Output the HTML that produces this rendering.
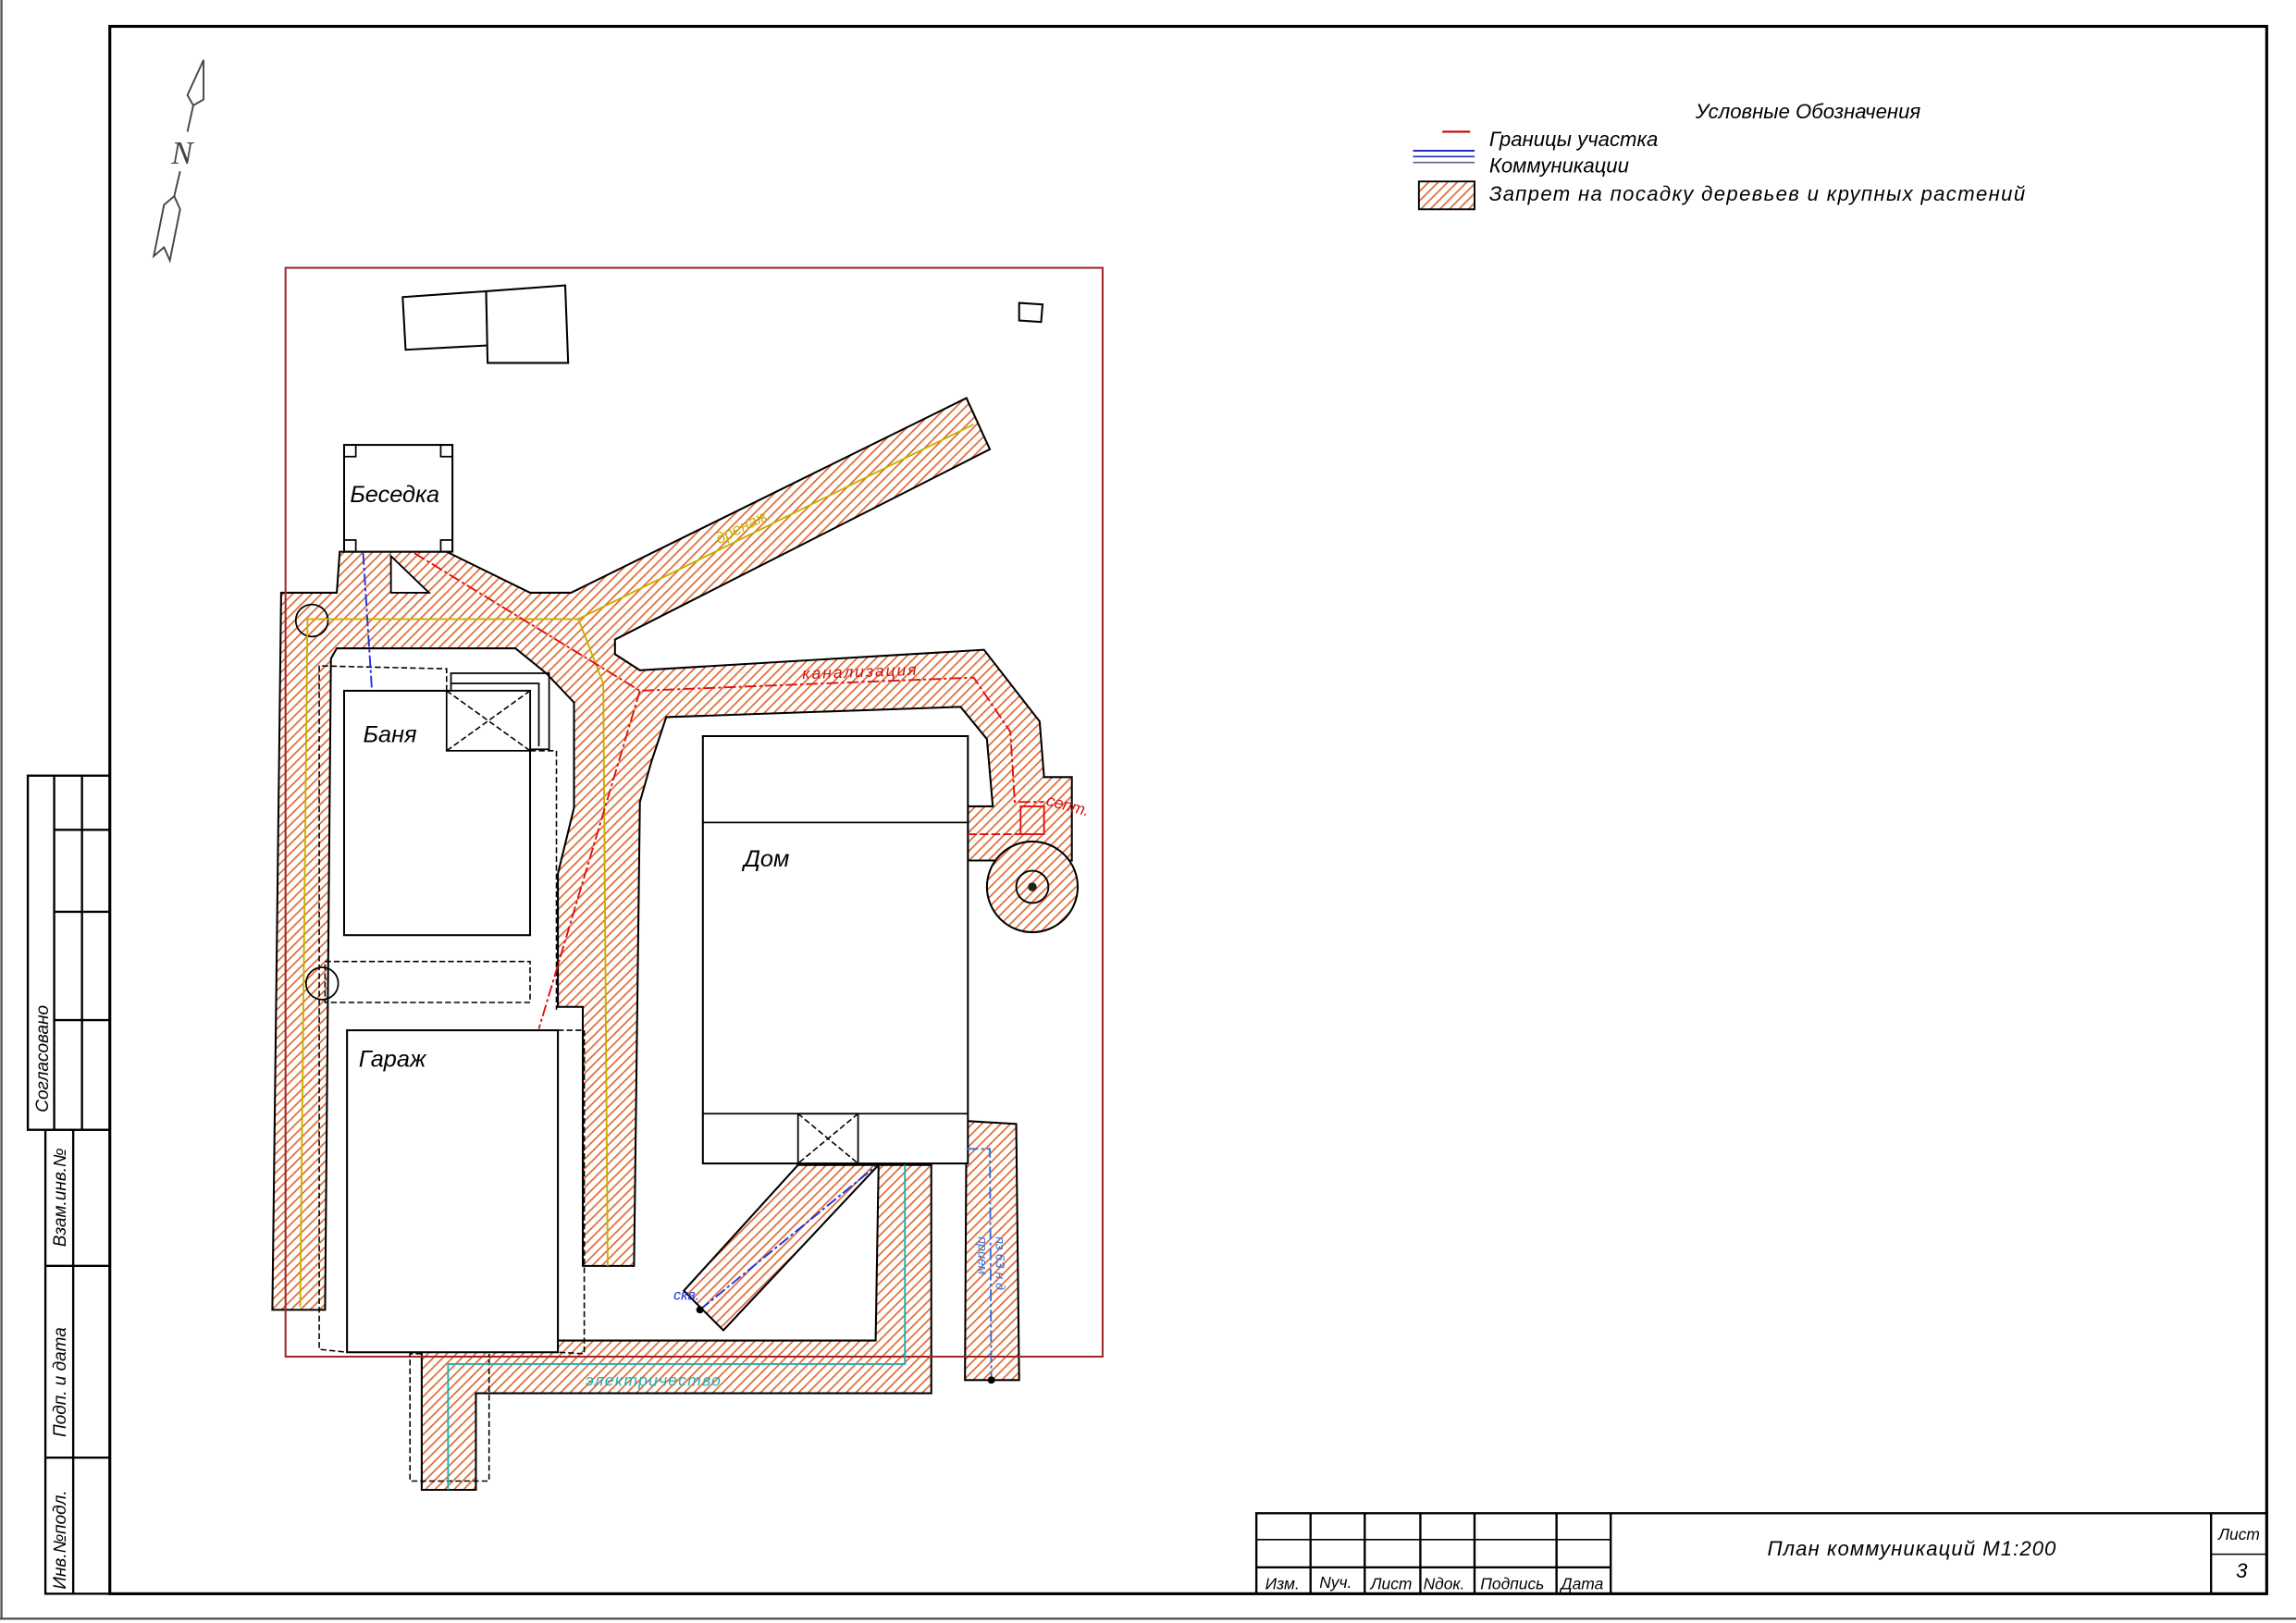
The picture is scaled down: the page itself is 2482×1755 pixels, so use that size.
<!DOCTYPE html>
<html><head><meta charset="utf-8"><style>
html,body{margin:0;padding:0;background:#fff;}
svg{display:block;}
text{font-family:"Liberation Sans","DejaVu Sans",sans-serif;font-style:italic;}
</style></head><body>
<svg width="2482" height="1755" viewBox="0 0 1568 1109" preserveAspectRatio="none" xmlns="http://www.w3.org/2000/svg">
<defs>
<pattern id="h" patternUnits="userSpaceOnUse" width="4.6" height="4.6" patternTransform="rotate(45)">
<rect width="4.6" height="4.6" fill="#fff"/>
<line x1="0" y1="0" x2="0" y2="4.6" stroke="#e0662e" stroke-width="2.1"/>
</pattern>
</defs>
<rect width="1568" height="1109" fill="#fff"/>
<line x1="1" y1="0" x2="1" y2="1106" stroke="#555" stroke-width="1.5"/>
<line x1="0" y1="1106" x2="1568" y2="1106" stroke="#555" stroke-width="1.5"/>
<rect x="75" y="18" width="1473" height="1071" fill="none" stroke="#000" stroke-width="2"/>

<g fill="none" stroke="#444" stroke-width="1.2">
<polygon points="139,41 128,65 132,72 139,68"/>
<line x1="132" y1="72" x2="128" y2="90"/>
<line x1="123" y1="117" x2="119" y2="134"/>
<polygon points="119,134 112,140 105,175 112,169 116,178 123,143"/>
</g>
<text x="117" y="112" font-size="22" fill="#444" style="font-family:'Liberation Serif',serif">N</text>

<g fill="none" stroke="#000" stroke-width="1.5">
<rect x="19" y="530" width="56" height="242"/>
<line x1="37" y1="530" x2="37" y2="772"/>
<line x1="56" y1="530" x2="56" y2="772"/>
<line x1="37" y1="567" x2="75" y2="567"/>
<line x1="37" y1="623" x2="75" y2="623"/>
<line x1="37" y1="697" x2="75" y2="697"/>
<rect x="31" y="772" width="44" height="317"/>
<line x1="50" y1="772" x2="50" y2="1089"/>
<line x1="31" y1="865" x2="75" y2="865"/>
<line x1="31" y1="996" x2="75" y2="996"/>
</g>
<text transform="translate(33,760) rotate(-90)" font-size="12">Согласовано</text>
<text transform="translate(45,852) rotate(-90)" font-size="12">Взам.инв.№</text>
<text transform="translate(45,982) rotate(-90)" font-size="12">Подп. и дата</text>
<text transform="translate(45,1086) rotate(-90)" font-size="12">Инв.№подл.</text>

<text x="1158" y="81" font-size="14">Условные Обозначения</text>
<line x1="985" y1="90" x2="1004" y2="90" stroke="#c00" stroke-width="1.3"/>
<text x="1017" y="100" font-size="14">Границы участка</text>
<line x1="965" y1="103" x2="1007" y2="103" stroke="#2030c0" stroke-width="1.3"/>
<line x1="965" y1="107" x2="1007" y2="107" stroke="#2030c0" stroke-width="1"/>
<line x1="965" y1="111" x2="1007" y2="111" stroke="#606080" stroke-width="1"/>
<text x="1017" y="118" font-size="14">Коммуникации</text>
<rect x="969" y="124" width="38" height="19" fill="url(#h)" stroke="#000" stroke-width="1.2"/>
<text x="1017" y="137" font-size="14" textLength="366">Запрет на посадку деревьев и крупных растений</text>

<g fill="url(#h)" stroke="#000" stroke-width="1.3">
<polygon points="192,405 230,405 232,377 305,377 362,405 390,405 660,272 676,307 420,437 420,447 437,458 672,444 710,493 713,531 732,531 732,588 661,588 661,551 678,551 674,505 656,483 455,490 445,520 437,548 433,865 398,865 398,688 381,688 381,597 392,552 392,480 373,460 352,443 230,443 226,450 222,895 186,895"/>
<circle cx="705" cy="606" r="31"/>
<polygon points="545,796 600,796 494,909 467,882"/>
<polygon points="600,796 636,796 636,952 334,952 325,952 325,1018 288,1018 288,916 598,916"/>
<polygon points="660,766 694,768 696,943 659,943"/>
</g>
<polygon points="267,380 267,405 293,405" fill="#fff" stroke="#000" stroke-width="1.2"/>
<circle cx="705" cy="606" r="11" fill="none" stroke="#000" stroke-width="1.2"/>
<circle cx="705" cy="606" r="3" fill="#222"/>

<rect x="195" y="183" width="558" height="744" fill="none" stroke="#a02828" stroke-width="1.3"/>

<g fill="#fff" stroke="#000" stroke-width="1.3">
<polygon points="275,203 332,199 333,236 277,239"/>
<polygon points="332,199 386,195 388,248 333,248"/>
<polygon points="696,207 712,208 711,220 696,219"/>
<rect x="235" y="304" width="74" height="73"/>
<rect x="235" y="472" width="127" height="167"/>
<rect x="237" y="704" width="144" height="220"/>
<rect x="480" y="503" width="181" height="292"/>
</g>
<g fill="none" stroke="#000" stroke-width="1.1">
<rect x="235" y="304" width="8" height="8"/><rect x="301" y="304" width="8" height="8"/>
<rect x="235" y="369" width="8" height="8"/><rect x="301" y="369" width="8" height="8"/>
<polyline points="308,472 308,460 375,460 375,512 362,512"/>
<polyline points="308,467 368,467 368,510"/>
<rect x="355" y="472" width="7" height="8"/>
<rect x="305" y="472" width="57" height="41" fill="#fff"/>
<line x1="480" y1="562" x2="661" y2="562"/>
<line x1="480" y1="761" x2="661" y2="761"/>
<rect x="545" y="761" width="41" height="34"/>
<circle cx="213" cy="424" r="11"/>
<circle cx="220" cy="672" r="11"/>
</g>
<g fill="none" stroke="#000" stroke-width="1" stroke-dasharray="4,2">
<line x1="305" y1="472" x2="362" y2="513"/><line x1="362" y1="472" x2="305" y2="513"/>
<line x1="545" y1="761" x2="586" y2="795"/><line x1="586" y1="761" x2="545" y2="795"/>
<polyline points="305,472 305,457 218,455 218,922 237,924"/>
<polyline points="362,513 380,513 380,690"/>
<polyline points="381,704 399,704 399,925 381,924"/>
<rect x="222" y="657" width="140" height="28"/>
<polyline points="288,925 280,925 280,1012 334,1012 334,925"/>
</g>

<g fill="none" stroke-width="1.2">
<polyline points="205,893 210,423 395,423 412,467 415,865" stroke="#c8b000"/>
<line x1="395" y1="423" x2="665" y2="290" stroke="#c8b000"/>
<polyline points="283,378 437,472 665,463 690,500 693,548 713,548" stroke="#e01010" stroke-dasharray="8,2,2,2"/>
<line x1="437" y1="472" x2="368" y2="703" stroke="#e01010" stroke-dasharray="8,2,2,2"/>
<line x1="661" y1="570" x2="697" y2="570" stroke="#e01010" stroke-dasharray="6,2"/>
<rect x="697" y="551" width="16" height="19" stroke="#e01010"/>
<line x1="248" y1="378" x2="254" y2="472" stroke="#2030e0" stroke-dasharray="8,2,2,2"/>
<line x1="478" y1="895" x2="598" y2="797" stroke="#2030e0" stroke-dasharray="8,2,2,2"/>
<polyline points="618,796 618,932 306,932 306,1018" stroke="#20b0b0"/>
<polyline points="660,785 676,785 677,943" stroke="#3070e0" stroke-dasharray="8,2,2,2"/>
</g>
<circle cx="478" cy="895" r="2.5" fill="#000"/>
<circle cx="677" cy="943" r="2.5" fill="#000"/>

<text x="239" y="343" font-size="16">Беседка</text>
<text x="248" y="507" font-size="16">Баня</text>
<text x="245" y="729" font-size="16">Гараж</text>
<text x="508" y="592" font-size="16">Дом</text>
<text x="548" y="464" font-size="11" fill="#d01010" transform="rotate(-2 548 464)" textLength="78">канализация</text>
<text x="491" y="372" font-size="11" fill="#c8b000" transform="rotate(-27 491 372)">дренаж</text>
<text x="714" y="550" font-size="11" fill="#d01010" transform="rotate(15 714 550)">септ.</text>
<text x="400" y="947" font-size="11" fill="#20b0b0" textLength="92">электричество</text>
<text x="460" y="888" font-size="10" fill="#2030e0">скв.</text>
<text x="680" y="845" font-size="9" fill="#3070e0" transform="rotate(90 680 845)">пз 63 н.д</text>
<text x="668" y="845" font-size="9" fill="#3070e0" transform="rotate(90 668 845)">прием</text>

<g fill="none" stroke="#000" stroke-width="1.5">
<rect x="858" y="1034" width="690" height="55"/>
<line x1="895" y1="1034" x2="895" y2="1089"/>
<line x1="932" y1="1034" x2="932" y2="1089"/>
<line x1="970" y1="1034" x2="970" y2="1089"/>
<line x1="1007" y1="1034" x2="1007" y2="1089"/>
<line x1="1063" y1="1034" x2="1063" y2="1089"/>
<line x1="1100" y1="1034" x2="1100" y2="1089"/>
<line x1="858" y1="1052" x2="1100" y2="1052" stroke-width="1"/>
<line x1="858" y1="1071" x2="1100" y2="1071"/>
<line x1="1510" y1="1034" x2="1510" y2="1089"/>
<line x1="1510" y1="1062" x2="1548" y2="1062" stroke-width="1"/>
</g>
<g font-size="11">
<text x="864" y="1086">Изм.</text>
<text x="901" y="1085">Nуч.</text>
<text x="936" y="1086">Лист</text>
<text x="972" y="1086">Nдок.</text>
<text x="1011" y="1086">Подпись</text>
<text x="1066" y="1086">Дата</text>
<text x="1515" y="1052">Лист</text>
</g>
<text x="1207" y="1063" font-size="14" textLength="197">План коммуникаций М1:200</text>
<text x="1527" y="1078" font-size="14">3</text>
</svg>
</body></html>
